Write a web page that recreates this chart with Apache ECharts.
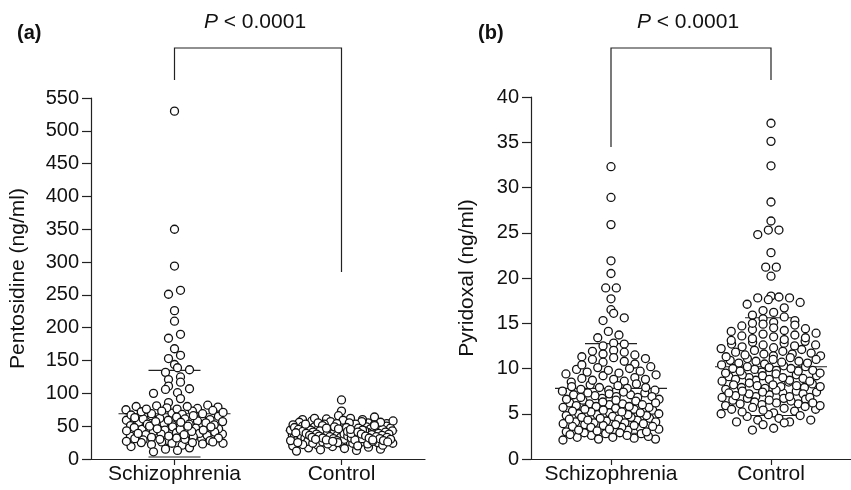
<!DOCTYPE html>
<html>
<head>
<meta charset="utf-8">
<script src="https://cdn.jsdelivr.net/npm/echarts@6/dist/echarts.min.js"></script>
<style>
html,body{margin:0;padding:0;background:#fff;}
#c{width:851px;height:490px;}
</style>
</head>
<body>
<div id="c"></div>
<script>
// ---------- DATA ----------
const categories = ['Schizophrenia', 'Control'];

const pentoSchizo = [
  530, 350, 294, 257, 251, 226, 210, 190, 184, 168, 158, 153, 144, 139, 136, 132, 125, 121, 117, 111, 107, 106, 101, 100, 92, 86,
  82, 79, 74, 70, 66, 63, 59, 56, 52, 49, 45, 42, 38, 35, 31, 28, 24, 21,
  80, 77, 73, 69, 65, 61, 58, 54, 51, 47, 44, 40, 37, 33, 30, 26, 23, 19,
  81, 76, 72, 68, 64, 60, 57, 53, 50, 46, 43, 39, 36, 32, 29, 25, 22, 17,
  78, 75, 71, 67, 62, 59, 55, 52, 48, 45, 41, 38, 34, 31, 27, 24, 15,
  80, 73, 66, 61, 57, 53, 49, 46, 42, 39, 35, 32, 28, 25, 13,
  76, 69, 63, 56, 50, 44, 37, 30, 26, 11
];
const pentoControl = [
  90, 73, 66, 64,
  62, 58, 55, 51, 48, 45, 42, 39, 36, 33, 30, 27, 24, 21, 18, 15,
  61, 57, 54, 50, 47, 44, 41, 38, 35, 32, 29, 26, 23, 20, 17, 13,
  60, 56, 53, 49, 46, 43, 40, 37, 34, 31, 28, 25, 22, 19, 16,
  62, 59, 55, 52, 48, 45, 42, 39, 36, 33, 30, 27, 24, 21, 12,
  58, 54, 51, 47, 44, 41, 38, 35, 32, 29, 26, 23, 20,
  60, 56, 52, 49, 46, 43, 40, 37, 34, 31, 28, 25, 22,
  57, 53, 50, 47, 44, 41, 38, 36, 33, 30, 27, 24,
  55, 51, 48, 45, 42, 39, 37, 34, 31, 28, 25,
  53, 49, 46, 43, 40, 38, 35, 32, 29, 26,
  47, 44, 42, 39, 36, 33, 30, 27,
  45, 41, 38, 35, 32, 29, 14
];
const pyriSchizo = [
  32.3, 28.9, 25.9, 21.9, 20.5, 18.9, 18.9, 17.7, 16.5, 16.1, 15.6, 15.3, 14.1, 13.7, 13.4, 12.8, 12.7, 12.5,
  12.0, 11.6, 11.1, 10.5, 9.9, 9.3, 8.8, 8.2, 7.6, 7.1, 6.5, 6.0, 5.4, 4.9, 4.3, 3.8, 3.2, 2.6, 2.1,
  11.9, 11.3, 10.8, 10.2, 9.6, 9.0, 8.5, 7.9, 7.3, 6.8, 6.2, 5.7, 5.1, 4.6, 4.0, 3.5, 2.9, 2.4,
  11.8, 11.0, 10.0, 9.2, 8.6, 7.8, 7.2, 6.7, 6.1, 5.6, 5.0, 4.5, 3.9, 3.4, 2.8, 2.2,
  11.5, 10.4, 9.7, 8.9, 8.0, 7.4, 6.9, 6.3, 5.8, 5.2, 4.7, 4.1, 3.6, 3.0, 2.5,
  11.2, 9.8, 8.7, 7.7, 7.0, 6.4, 5.9, 5.3, 4.8, 4.2, 3.7, 3.1, 2.3,
  10.7, 9.4, 8.3, 7.5, 6.6, 6.1, 5.5, 4.9, 4.4, 3.9, 3.3, 2.7,
  10.1, 8.8, 7.9, 7.1, 6.6, 5.7, 5.2, 4.6, 4.0, 3.5, 2.9, 2.2,
  9.5, 8.1, 7.3, 6.8, 6.0, 5.4, 4.8, 4.3, 3.7, 3.2, 2.6,
  7.6, 6.9, 6.2, 5.5, 5.0, 4.4, 3.8, 3.3, 2.8, 2.4,
  6.5, 5.8, 5.1, 4.5, 4.1, 3.6, 3.0
];
const pyriControl = [
  37.1, 35.1, 32.4, 28.4, 26.3, 25.3, 25.3, 24.8, 22.8, 21.2, 21.2, 20.2,
  18.0, 17.9, 17.8, 17.8, 17.6, 17.3, 17.1, 16.7, 16.4, 16.2,
  15.9, 15.3, 14.7, 14.1, 13.5, 12.9, 12.3, 11.7, 11.1, 10.5, 9.9, 9.3, 8.7, 8.1, 7.5, 6.9, 6.3, 5.7, 5.1, 4.5,
  15.7, 15.1, 14.5, 13.9, 13.3, 12.7, 12.1, 11.5, 10.9, 10.3, 9.7, 9.1, 8.5, 7.9, 7.3, 6.7, 6.1, 5.5, 4.9, 4.3,
  15.5, 14.9, 14.3, 13.7, 13.1, 12.5, 11.9, 11.3, 10.7, 10.1, 9.5, 8.9, 8.3, 7.7, 7.1, 6.5, 5.9, 5.3, 4.7, 4.1,
  15.0, 14.2, 13.6, 12.8, 12.0, 11.4, 10.8, 10.2, 9.6, 9.0, 8.4, 7.8, 7.2, 6.6, 6.0, 5.4, 4.8,
  14.8, 13.8, 13.0, 12.2, 11.6, 11.0, 10.4, 9.8, 9.2, 8.6, 8.0, 7.4, 6.8, 6.2, 5.6, 5.0,
  14.4, 13.4, 12.6, 11.8, 11.2, 10.6, 10.0, 9.4, 8.8, 8.2, 7.6, 7.0, 6.4, 5.8, 5.2,
  13.2, 12.4, 11.4, 10.6, 9.8, 9.2, 8.6, 7.9, 7.3, 6.7, 6.1, 5.5,
  12.6, 11.6, 10.8, 10.0, 9.3, 8.7, 8.0, 7.2, 6.5, 5.9,
  11.0, 10.2, 9.5, 8.8, 8.1, 7.4, 6.8, 6.2,
  9.7, 9.0, 8.2, 7.5, 6.9,
  4.3, 4.1, 4.0, 3.8, 3.4, 3.2
];
const pentoMean = [69, 43];
const pentoSD = [66, 15];
const pyriMean = [7.8, 10.2];
const pyriSD = [4.95, 5.4];
const pentoTicks = { min: 0, max: 550, interval: 50 };
const pyriTicks = { min: 0, max: 40, interval: 5 };

// ---------- LAYOUT ----------
const FONT = "'Liberation Sans', Arial, Helvetica, sans-serif";
const grids = [
  { left: 91, top: 98, width: 334, height: 361 },
  { left: 531, top: 97, width: 332, height: 362 }
];

// Prism-like row layout: group values into rows of rowH px, spread each row horizontally
function rowLayout(values, pxPerUnit, rowH, sp, maxHalf) {
  const idx = values.map((v, i) => i).sort((a, b) => values[a] - values[b]);
  const rows = [];
  let cur = null;
  for (const i of idx) {
    const y = values[i] * pxPerUnit;
    if (!cur || y - cur.start > rowH) { cur = { start: y, items: [] }; rows.push(cur); }
    cur.items.push(i);
  }
  const out = new Array(values.length);
  rows.forEach((r, ri) => {
    const n = r.items.length;
    const s = n > 1 ? Math.min(sp, (2 * maxHalf) / (n - 1)) : 0;
    const shift = n > 2 ? (ri % 2 === 1 ? s / 4 : -s / 4) : 0;
    const order = r.items.map((_, j) => j).sort((a, b) => ((a * 0.618034) % 1) - ((b * 0.618034) % 1));
    order.forEach((slot, j) => {
      out[r.items[j]] = (slot - (n - 1) / 2) * s + shift;
    });
  });
  return out;
}

function swarmData(values, cat, gi, yMax, rowH, sp, maxHalf) {
  const g = grids[gi];
  const pxPerUnit = g.height / yMax;
  const unitPerPx = 2 / g.width;
  const offs = rowLayout(values, pxPerUnit, rowH, sp, maxHalf);
  return values.map((v, i) => [cat + 0.5 + offs[i] * unitPerPx, v]);
}

function statLines(means, sds) {
  const out = [];
  means.forEach((m, c) => {
    out.push([c + 0.5, m, 1]);
    out.push([c + 0.5, m + sds[c], 0]);
    out.push([c + 0.5, m - sds[c], 0]);
  });
  return out;
}

function lineRender(params, api) {
  const p = api.coord([api.value(0), api.value(1)]);
  const hw = api.value(2) === 1 ? 56 : 26;
  return {
    type: 'line',
    shape: { x1: p[0] - hw, y1: p[1], x2: p[0] + hw, y2: p[1] },
    style: { stroke: '#222', lineWidth: 1.1 }
  };
}

const axisColor = '#222';
function catAxis(gi) {
  return {
    type: 'category', gridIndex: gi, data: categories, boundaryGap: true,
    axisLine: { show: true, lineStyle: { color: axisColor, width: 1.2 } },
    axisTick: { show: true, alignWithLabel: true, length: 6, lineStyle: { color: axisColor, width: 1.2 } },
    axisLabel: { interval: 0, fontSize: 21, color: '#111', fontFamily: FONT, margin: 5, hideOverlap: false },
    splitLine: { show: false }
  };
}
function valAxis(gi, t, name, gap) {
  return {
    type: 'value', gridIndex: gi, min: t.min, max: t.max, interval: t.interval,
    axisLine: { show: true, lineStyle: { color: axisColor, width: 1.2 } },
    axisTick: { show: true, length: 9, lineStyle: { color: axisColor, width: 1.2 } },
    axisLabel: { fontSize: 20, color: '#111', fontFamily: FONT, margin: 12 },
    splitLine: { show: false },
    name: name, nameLocation: 'middle', nameGap: gap,
    nameTextStyle: { fontSize: 21, color: '#111', fontFamily: FONT }
  };
}

const pointStyle = {
  symbol: 'circle', symbolSize: 8,
  itemStyle: { color: '#fff', borderColor: '#111', borderWidth: 1.3, opacity: 1 }
};

function scatter(xi, yi, data) {
  return Object.assign({ type: 'scatter', xAxisIndex: xi, yAxisIndex: yi, data: data, z: 3, silent: true }, pointStyle);
}

const chart = echarts.init(document.getElementById('c'));
chart.setOption({
  animation: false,
  backgroundColor: '#fff',
  grid: grids,
  xAxis: [
    catAxis(0), catAxis(1),
    { type: 'value', gridIndex: 0, min: 0, max: 2, show: false },
    { type: 'value', gridIndex: 1, min: 0, max: 2, show: false }
  ],
  yAxis: [
    valAxis(0, pentoTicks, 'Pentosidine (ng/ml)', 62),
    valAxis(1, pyriTicks, 'Pyridoxal (ng/ml)', 53)
  ],
  series: [
    { type: 'custom', xAxisIndex: 2, yAxisIndex: 0, renderItem: lineRender, data: statLines(pentoMean, pentoSD), z: 1, silent: true },
    { type: 'custom', xAxisIndex: 3, yAxisIndex: 1, renderItem: lineRender, data: statLines(pyriMean, pyriSD), z: 1, silent: true },
    scatter(2, 0, swarmData(pentoSchizo, 0, 0, pentoTicks.max, 5, 12, 46)),
    scatter(2, 0, swarmData(pentoControl, 1, 0, pentoTicks.max, 5, 12, 50)),
    scatter(3, 1, swarmData(pyriSchizo, 0, 1, pyriTicks.max, 7.5, 11, 48)),
    scatter(3, 1, swarmData(pyriControl, 1, 1, pyriTicks.max, 7.5, 11, 49))
  ]
});

// ---------- ANNOTATIONS ----------
function bracket(xi, leftEnd, rightEnd) {
  const xl = chart.convertToPixel({ xAxisIndex: xi }, 0.5);
  const xr = chart.convertToPixel({ xAxisIndex: xi }, 1.5);
  const top = 48;
  return [
    { type: 'polyline', shape: { points: [[xl, leftEnd], [xl, top], [xr, top], [xr, rightEnd]] },
      style: { fill: null, stroke: '#222', lineWidth: 1.2 } },
    {
      type: 'text', x: (xl + xr) / 2 - 3, y: 22,
      style: {
        text: '{i|P} < 0.0001', align: 'center', verticalAlign: 'middle',
        font: '21px ' + FONT, fill: '#111',
        rich: { i: { fontStyle: 'italic', fontSize: 21, fontFamily: FONT, fill: '#111' } }
      }
    }
  ];
}
chart.setOption({
  graphic: [].concat(
    bracket(2, 80, 272),
    bracket(3, 147, 80),
    [
      { type: 'text', x: 17, y: 33, style: { text: '(a)', font: 'bold 20px ' + FONT, fill: '#111', verticalAlign: 'middle' } },
      { type: 'text', x: 478, y: 33, style: { text: '(b)', font: 'bold 20px ' + FONT, fill: '#111', verticalAlign: 'middle' } }
    ]
  )
});
</script>
</body>
</html>
